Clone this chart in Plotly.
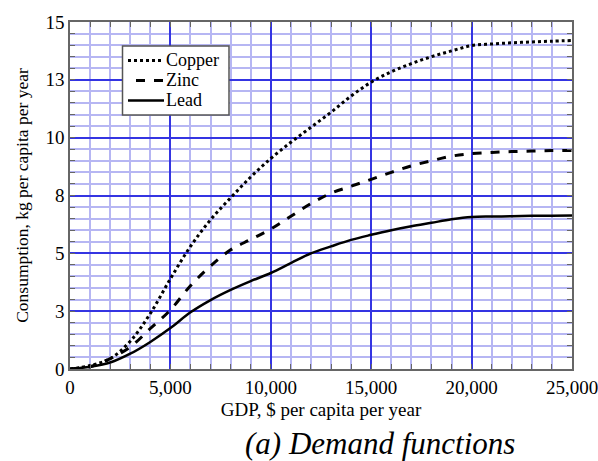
import plotly.graph_objects as go

# GDP per capita ($/yr) and consumption (kg per capita per yr)
gdp = [0, 1000, 2000, 3000, 4000, 5000, 6000, 7000, 8000, 9000, 10000,
       11000, 12000, 13000, 14000, 15000, 16000, 17000, 18000, 19000,
       20000, 21000, 22000, 23000, 24000, 25000]
copper = [0, 0.15, 0.45, 1.2, 2.4, 3.9, 5.3, 6.45, 7.4, 8.3, 9.1,
          9.8, 10.45, 11.1, 11.8, 12.4, 12.85, 13.2, 13.5, 13.75,
          13.98, 14.05, 14.1, 14.14, 14.17, 14.2]
zinc = [0, 0.1, 0.45, 0.95, 1.75, 2.55, 3.6, 4.45, 5.15, 5.6, 6.05,
        6.6, 7.15, 7.6, 7.9, 8.2, 8.5, 8.78, 9.0, 9.2,
        9.31, 9.36, 9.4, 9.42, 9.44, 9.45]
lead = [0, 0.1, 0.28, 0.66, 1.17, 1.77, 2.45, 2.98, 3.42, 3.8, 4.15,
        4.58, 5.0, 5.3, 5.58, 5.8, 6.0, 6.17, 6.32, 6.47,
        6.57, 6.59, 6.6, 6.62, 6.63, 6.64]

series = [("Copper", copper, "dot", 3), ("Zinc", zinc, "dash", 3), ("Lead", lead, "solid", 2.5)]

y_tickvals = [0, 2.5, 5, 7.5, 10, 12.5, 15]
y_ticktext = ["0", "3", "5", "8", "10", "13", "15"]
x_tickvals = [0, 5000, 10000, 15000, 20000, 25000]
x_ticktext = ["0", "5,000", "10,000", "15,000", "20,000", "25,000"]

serif = "Liberation Serif, Times New Roman, serif"

fig = go.Figure()
for name, vals, dash, width in series:
    fig.add_trace(go.Scatter(x=gdp, y=vals, name=name, mode="lines", showlegend=False,
                             line=dict(color="black", width=width, dash=dash, shape="spline")))

axis_common = dict(
    showline=True, linecolor="#666666", linewidth=1.5, mirror="allticks",
    ticks="inside", ticklen=5, tickcolor="#666666", tickwidth=1,
    gridcolor="#3434e2", gridwidth=1.5, zeroline=False,
    tickfont=dict(family=serif, size=19, color="black"),
    ticklabeloverflow="allow", automargin=False,
)
minor_grid = dict(showgrid=True, gridcolor="#b6b6f3", gridwidth=1.5,
                  ticks="inside", ticklen=5, tickcolor="#666666")

fig.update_xaxes(
    range=[0, 25000], tickvals=x_tickvals, ticktext=x_ticktext,
    minor=dict(dtick=1000, **minor_grid),
    title=dict(text="GDP, $ per capita per year",
               font=dict(family=serif, size=19, color="black"), standoff=6),
    **axis_common,
)
fig.update_yaxes(
    range=[0, 15], tickvals=y_tickvals, ticktext=y_ticktext,
    minor=dict(dtick=0.5, **minor_grid),
    title=dict(text="Consumption, kg per capita per year",
               font=dict(family=serif, size=17.5, color="black"), standoff=12),
    **axis_common,
)

# Legend box drawn in paper coordinates
L, B, W, H = 70, 369, 502, 347
def px(x):
    return (x - L) / W
def py(y):
    return (B - y) / H

shapes = [dict(type="rect", xref="paper", yref="paper",
               x0=px(122.5), x1=px(229), y0=py(115), y1=py(46),
               fillcolor="white", line=dict(color="#555555", width=1.5), layer="above")]
annotations = []
rows = [(60.5, 128, 164), (80.5, 136, 164), (100.5, 128, 164)]
for (name, _, dash, width), (yy, xa, xb) in zip(series, rows):
    shapes.append(dict(type="line", xref="paper", yref="paper",
                       x0=px(xa), x1=px(xb), y0=py(yy), y1=py(yy),
                       line=dict(color="black", width=width, dash=dash), layer="above"))
    annotations.append(dict(text=name, x=px(164), y=py(yy), xref="paper", yref="paper",
                            xanchor="left", yanchor="middle", showarrow=False,
                            font=dict(family=serif, size=18, color="black")))

annotations.append(dict(text="(a) Demand functions", x=px(380), y=py(443),
                        xref="paper", yref="paper", xanchor="center", yanchor="middle",
                        showarrow=False,
                        font=dict(family=serif, size=31, color="black", style="italic")))

fig.update_layout(
    width=598, height=461,
    margin=dict(l=70, r=26, t=22, b=92),
    paper_bgcolor="white", plot_bgcolor="white",
    showlegend=False,
    shapes=shapes,
    annotations=annotations,
)

fig.write_html("out.html")
